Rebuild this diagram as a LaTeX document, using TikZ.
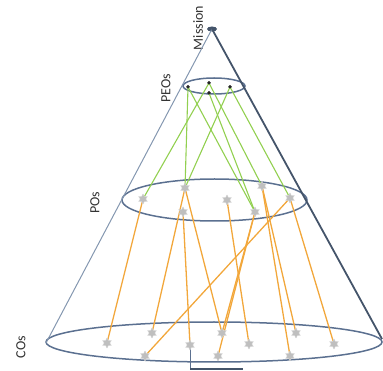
\documentclass[tikz,border=0pt]{standalone}
\usepackage{fontspec}
\setmainfont{Carlito}
\usetikzlibrary{shapes.geometric}
\definecolor{conedark}{HTML}{44546A}
\definecolor{conelight}{HTML}{8497B0}
\definecolor{ellc}{HTML}{5B7090}
\definecolor{grn}{HTML}{92D050}
\definecolor{org}{HTML}{F2A73B}
\begin{document}
\begin{tikzpicture}[x=1pt,y=-1pt,
 lab/.style={rotate=90,font=\fontsize{14}{14}\selectfont,text=black!80,inner sep=0},
 peo/.style={circle,fill=black!85,inner sep=0,minimum size=3.5},
 obj/.style={star,star points=6,star point ratio=1.8,fill=gray!50,draw=gray!35,inner sep=0,minimum size=10},
 gline/.style={grn,line width=1.1},
 oline/.style={org,line width=1.3},
 ell/.style={ellc,line width=1.5},
]
\useasboundingbox (0,0) rectangle (383,371);
% labels
\node[lab] (tm) at (198,28) {Mission};
\node[lab] (tpeo) at (166,88) {PEOs};
\node[lab] (tpo) at (95,203) {POs};
\node[lab] (tco) at (21,347) {COs};
% ellipses
\draw[ell] (214,86) ellipse [x radius=31, y radius=8];
\draw[ell] (214.5,200) ellipse [x radius=92.5, y radius=21];
\draw[ell] (214,342) ellipse [x radius=168, y radius=20];
% cone
\node[ellipse,fill=conedark,inner sep=0,minimum width=10,minimum height=5] (apex) at (212,29) {};
\coordinate (L) at (46,343);
\coordinate (R) at (382,339);
\draw[conelight,line width=1] (apex.center) -- (L);
\draw[conedark,line width=1.8] (apex.center) -- (R);
% points
\node[peo] (e1) at (188,87) {};
\node[peo] (e2) at (209,83) {};
\node[peo] (e3) at (209,93) {};
\node[peo] (e4) at (230,87) {};
\foreach \n/\x/\y in {p1/143/199,p2/185/188,p3/183/212,p4/227/200,p5/262/186,p6/255/212,p7/290/198,
  c1/107/343,c2/152/333,c3/145/356,c4/190/345,c5/222/333,c6/218/356,c7/249/344,c8/296/333,c9/290/356,c10/334/344}
  \coordinate (\n) at (\x,\y);
% base axis
\coordinate (b1) at (190,369);
\coordinate (b2) at (243,369);
\draw[ellc,line width=0.8] (c4) -- (b1);
\draw[conedark,line width=1.6] (b1) -- (b2);
% green links
\foreach \a/\b in {e1/p2,e1/p6,e2/p1,e2/p5,e3/p6,e4/p2,e4/p7}
  \draw[gline] (\a.center) -- (\b);
% orange links
\foreach \a/\b in {p1/c1,p2/c2,p3/c4,p2/c5,p6/c5,p6/c6,p4/c7,p7/c3,p5/c9,p5/c8,p7/c10}
  \draw[oline] (\a) -- (\b);
% object marks
\foreach \n in {p1,p2,p3,p4,p5,p6,p7,c1,c2,c3,c4,c5,c6,c7,c8,c9,c10}
  \node[obj] (m\n) at (\n) {};
\node[peo] at (e1) {};
\node[peo] at (e2) {};
\node[peo] at (e3) {};
\node[peo] at (e4) {};
\end{tikzpicture}
\end{document}
